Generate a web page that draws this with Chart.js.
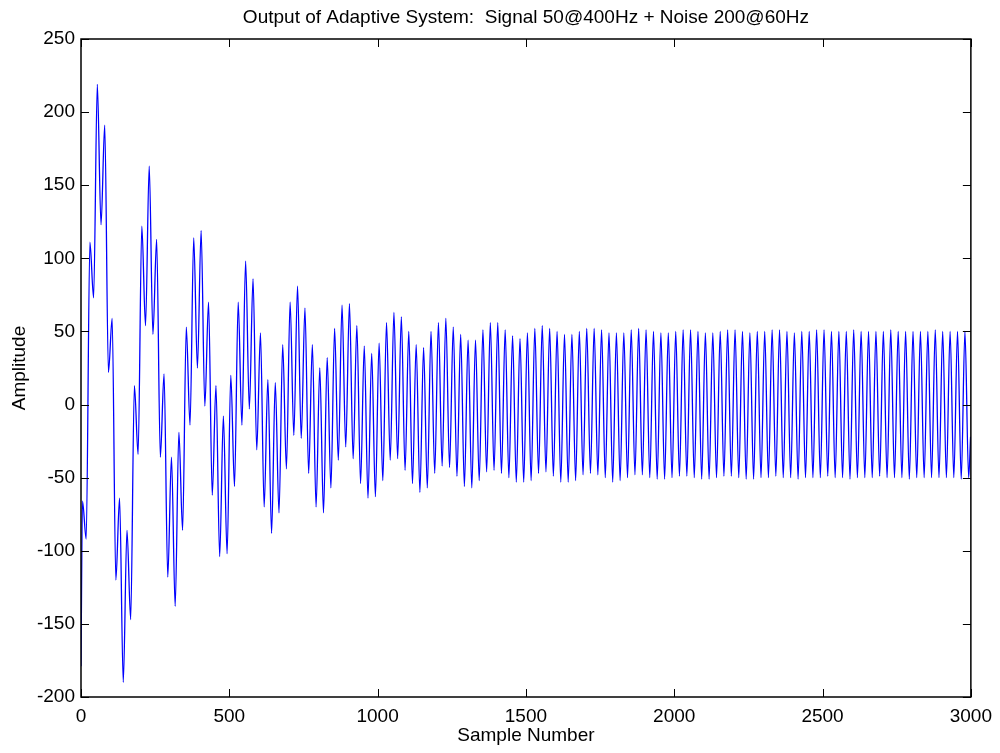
<!DOCTYPE html>
<html lang="en">
<head>
    <meta charset="UTF-8">
    <title>Output of Adaptive System</title>
    <style>
        body {
            margin: 0;
            padding: 0;
            background-color: #fff;
        }

        #wrap {
            width: 1000px;
            height: 753px;
        }
    </style>
</head>
<body>
    <div id="wrap">
        <canvas id="signal-chart" width="1000" height="753"></canvas>
    </div>

    <script src="https://cdn.jsdelivr.net/npm/chart.js"></script>
    <script>
        // 400 Hz signal sampled at 10 kHz -> one cycle every 25 samples
        const samplesPerCycle = 25;
        const peakOffset = 5;
        const troughOffset = 17.5;
        const firstSample = { x: 0, y: -179 };
        const lastSample = { x: 2999, y: -22 };

        // maximum of each cycle
        const peakValues = [
            -66, 111, 219, 191, 59, -64, -86, 13, 122, 163,
            113, 21, -36, -19, 53, 114, 119, 70, 13, -8,
            20, 70, 98, 86, 49, 17, 15, 41, 70, 81,
            66, 41, 25, 32, 52, 68, 69, 54, 40, 35,
            42, 56, 63, 60, 50, 41, 39, 50, 56, 59,
            53, 48, 44, 44, 51, 56, 56, 51, 47, 45,
            49, 52, 54, 52, 50, 48, 48, 50, 52, 52,
            51, 49, 49, 49, 51, 52, 51, 50, 49, 49,
            50, 51, 51, 50, 49, 49, 50, 51, 51, 50,
            49, 50, 50, 51, 51, 50, 49, 50, 50, 51,
            51, 50, 50, 50, 51, 50, 50, 50, 50, 51,
            50, 50, 50, 50, 50, 51, 50, 50, 50, 50
        ];

        // minimum of each cycle
        const troughValues = [
            -92, 73, 123, 22, -120, -190, -147, -34, 54, 48,
            -36, -118, -138, -86, -14, 25, -1, -62, -104, -102,
            -56, -14, -3, -31, -70, -88, -74, -44, -21, -23,
            -47, -70, -74, -57, -38, -29, -37, -54, -64, -63,
            -52, -38, -37, -45, -54, -60, -57, -47, -42, -43,
            -49, -56, -57, -52, -46, -45, -47, -50, -53, -53,
            -52, -47, -46, -49, -53, -53, -52, -48, -47, -48,
            -50, -53, -52, -50, -48, -48, -50, -51, -51, -50,
            -49, -49, -50, -51, -51, -50, -49, -49, -50, -51,
            -51, -50, -50, -49, -50, -50, -51, -50, -50, -50,
            -49, -50, -50, -51, -50, -50, -50, -49, -50, -50,
            -50, -51, -50, -50, -50, -50, -50, -50, -51, -50
        ];

        const xTicks = [0, 500, 1000, 1500, 2000, 2500, 3000];
        const yTicks = [-200, -150, -100, -50, 0, 50, 100, 150, 200, 250];
        const chartTitle = 'Output of Adaptive System:  Signal 50@400Hz + Noise 200@60Hz';

        const points = [firstSample];
        peakValues.forEach((p, k) => {
            points.push({ x: k * samplesPerCycle + peakOffset, y: p });
            points.push({ x: k * samplesPerCycle + troughOffset, y: troughValues[k] });
        });
        points.push(lastSample);

        const fontFamily = 'Arial, "Liberation Sans", Helvetica, sans-serif';
        const fontSize = 19;

        // matlab style box with ticks pointing inwards on all four sides,
        // title centred over the axes box
        const boxAxes = {
            id: 'boxAxes',
            afterDraw(chart) {
                const { ctx, chartArea: a, scales } = chart;
                const len = 8;
                ctx.save();
                ctx.strokeStyle = '#000';
                ctx.lineWidth = 1;
                ctx.beginPath();
                scales.x.ticks.forEach(t => {
                    const px = Math.round(scales.x.getPixelForValue(t.value)) + 0.5;
                    ctx.moveTo(px, a.bottom);
                    ctx.lineTo(px, a.bottom - len);
                    ctx.moveTo(px, a.top);
                    ctx.lineTo(px, a.top + len);
                });
                scales.y.ticks.forEach(t => {
                    const py = Math.round(scales.y.getPixelForValue(t.value)) + 0.5;
                    ctx.moveTo(a.left, py);
                    ctx.lineTo(a.left + len, py);
                    ctx.moveTo(a.right, py);
                    ctx.lineTo(a.right - len, py);
                });
                ctx.stroke();
                ctx.lineWidth = 1.5;
                ctx.strokeRect(a.left, a.top, a.right - a.left, a.bottom - a.top);

                ctx.fillStyle = '#000';
                ctx.font = fontSize + 'px ' + fontFamily;
                ctx.textAlign = 'center';
                ctx.textBaseline = 'middle';
                ctx.fillText(chartTitle, (a.left + a.right) / 2, 18);
                ctx.restore();
            }
        };

        new Chart(document.getElementById('signal-chart'), {
            type: 'line',
            data: {
                datasets: [{
                    data: points,
                    borderColor: '#0000ff',
                    borderWidth: 1.3,
                    pointRadius: 0,
                    fill: false,
                    cubicInterpolationMode: 'monotone'
                }]
            },
            options: {
                responsive: false,
                animation: false,
                devicePixelRatio: 1,
                layout: {
                    padding: { left: 0, right: 28, top: 39, bottom: 0 }
                },
                plugins: {
                    legend: { display: false },
                    tooltip: { enabled: false },
                    title: { display: false }
                },
                scales: {
                    x: {
                        type: 'linear',
                        min: 0,
                        max: 3000,
                        afterBuildTicks: scale => {
                            scale.ticks = xTicks.map(v => ({ value: v }));
                        },
                        afterFit: scale => {
                            scale.height = 56;
                        },
                        grid: { display: false, drawTicks: false },
                        border: { display: false },
                        ticks: {
                            color: '#000',
                            padding: 8,
                            maxRotation: 0,
                            font: { family: fontFamily, size: fontSize },
                            callback: v => String(v)
                        },
                        title: {
                            display: true,
                            text: 'Sample Number',
                            color: '#000',
                            font: { family: fontFamily, size: fontSize },
                            padding: { top: 0, bottom: 6 }
                        }
                    },
                    y: {
                        min: -200,
                        max: 250,
                        afterBuildTicks: scale => {
                            scale.ticks = yTicks.map(v => ({ value: v }));
                        },
                        afterFit: scale => {
                            scale.width = 81;
                        },
                        grid: { display: false, drawTicks: false },
                        border: { display: false },
                        ticks: {
                            color: '#000',
                            padding: 6,
                            font: { family: fontFamily, size: fontSize },
                            callback: v => String(v)
                        },
                        title: {
                            display: true,
                            text: 'Amplitude',
                            color: '#000',
                            font: { family: fontFamily, size: fontSize },
                            padding: { top: 8, bottom: 0 }
                        }
                    }
                }
            },
            plugins: [boxAxes]
        });
    </script>
</body>
</html>
